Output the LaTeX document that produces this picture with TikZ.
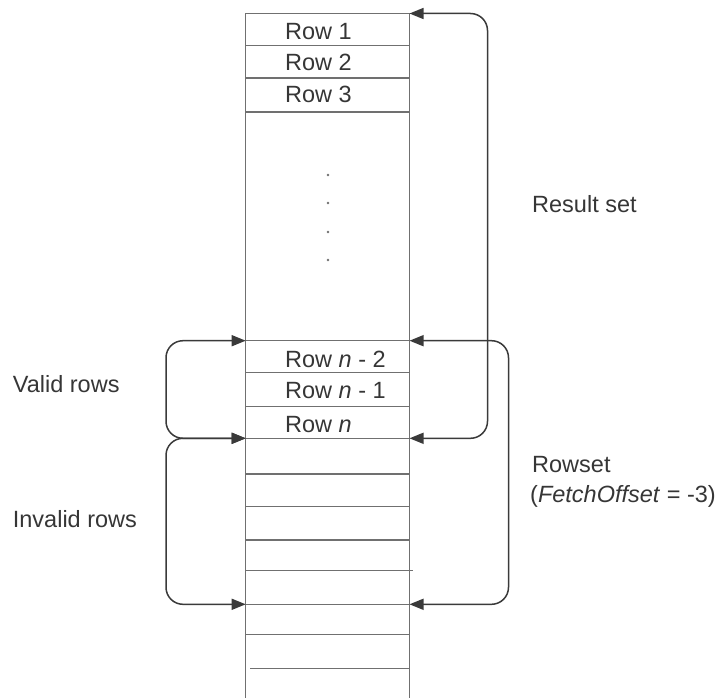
\documentclass[tikz,border=0pt]{standalone}
\usepackage{fontspec}
\setmainfont{Liberation Sans}
\usetikzlibrary{arrows.meta}
\definecolor{txt}{HTML}{363636}
\definecolor{colline}{HTML}{707070}
\definecolor{brk}{HTML}{3A3A3A}
\tikzset{
  lbl/.style={anchor=base west, inner sep=0pt, text=txt, font=\fontsize{23.5}{28}\selectfont},
  rowline/.style={draw=colline, line width=1.3pt},
  bracket/.style={draw=brk, line width=1.5pt, rounded corners=17pt,
    {Triangle[length=14pt,width=11pt]}-{Triangle[length=14pt,width=11pt]}},
  dotmark/.style={circle, fill=colline, inner sep=0pt, minimum size=2.8pt}
}
\begin{document}
\begin{tikzpicture}[x=1pt,y=-1pt]
\useasboundingbox (0,0) rectangle (723,698);
% column
\coordinate (cl) at (245.7,13.5);
\coordinate (cr) at (409.5,13.5);
\draw[rowline] (245.7,698) -- (cl) -- (cr) -- (409.5,698);
\foreach \y in {45.7,78,112,340.7,372.3,406.7,438.3,474,506.7,540,604.3,634.3}
  \draw[rowline] (245.7,\y) -- (409.5,\y);
\draw[rowline] (245.7,570.3) -- (413,570.3);
\draw[rowline] (250,668.3) -- (409.5,668.3);
% row labels
\node[lbl] (r1) at (285,40) {Row 1};
\node[lbl] (r2) at (285,71) {Row 2};
\node[lbl] (r3) at (285,103) {Row 3};
\node[lbl] (rn2) at (285,367) {Row \textit{n} - 2};
\node[lbl] (rn1) at (285,398) {Row \textit{n} - 1};
\node[lbl] (rn) at (285,432) {Row \textit{n}};
% dots
\foreach \y/\n in {175/d1,203/d2,232/d3,260/d4}
  \node[dotmark] (\n) at (328,\y) {};
% anchor coordinates for brackets
\coordinate (Rtop) at (409.5,13.5);
\coordinate (Rn2) at (409.5,340.7);
\coordinate (Rnb) at (409.5,438.3);
\coordinate (Rlow) at (409.5,604.3);
\coordinate (Ln2) at (245.7,340.7);
\coordinate (Lnb) at (245.7,438.3);
\coordinate (Llow) at (245.7,604.3);
% brackets
\draw[bracket] (Rtop) -- (487.5,13.5) -- (487.5,438.3) -- (Rnb);
\draw[bracket] (Rn2) -- (508.5,340.7) -- (508.5,604.3) -- (Rlow);
\draw[bracket] (Ln2) -- (166,340.7) -- (166,438.3) -- (Lnb);
\draw[bracket] (Lnb) -- (166,438.3) -- (166,604.3) -- (Llow);
% labels
\node[lbl] (res) at (532,212) {Result set};
\node[lbl] (valid) at (12.7,392) {Valid rows};
\node[lbl] (invalid) at (12.7,527) {Invalid rows};
\node[lbl] (rowset) at (532,472) {Rowset};
\node[lbl] (fetch) at (530,502) {(\textit{FetchOffset} = -3)};
\end{tikzpicture}
\end{document}
